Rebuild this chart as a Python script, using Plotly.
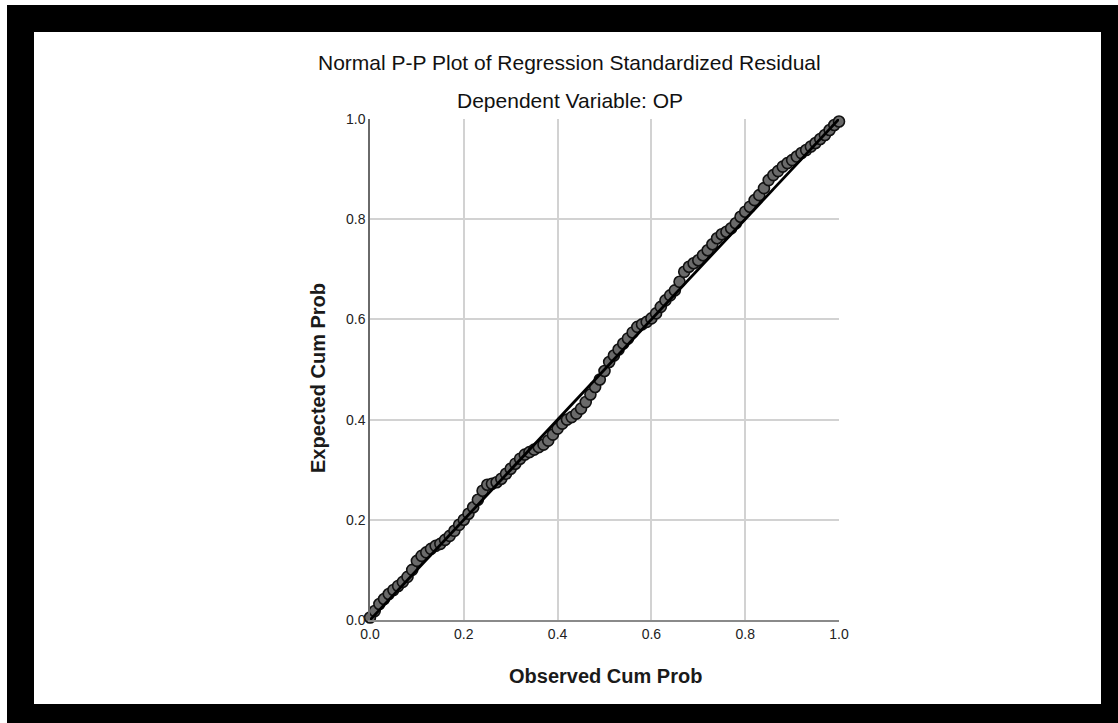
import plotly.graph_objects as go

# Observed cumulative probability (x) and expected cumulative probability (y)
observed_cum_prob = [
    0.00, 0.01, 0.02, 0.03, 0.04, 0.05, 0.06, 0.07, 0.08, 0.09,
    0.10, 0.11, 0.12, 0.13, 0.14, 0.15, 0.16, 0.17, 0.18, 0.19,
    0.20, 0.21, 0.22, 0.23, 0.24, 0.25, 0.26, 0.27, 0.28, 0.29,
    0.30, 0.31, 0.32, 0.33, 0.34, 0.35, 0.36, 0.37, 0.38, 0.39,
    0.40, 0.41, 0.42, 0.43, 0.44, 0.45, 0.46, 0.47, 0.48, 0.49,
    0.50, 0.51, 0.52, 0.53, 0.54, 0.55, 0.56, 0.57, 0.58, 0.59,
    0.60, 0.61, 0.62, 0.63, 0.64, 0.65, 0.66, 0.67, 0.68, 0.69,
    0.70, 0.71, 0.72, 0.73, 0.74, 0.75, 0.76, 0.77, 0.78, 0.79,
    0.80, 0.81, 0.82, 0.83, 0.84, 0.85, 0.86, 0.87, 0.88, 0.89,
    0.90, 0.91, 0.92, 0.93, 0.94, 0.95, 0.96, 0.97, 0.98, 0.99,
    1.00,
]
expected_cum_prob = [
    0.005, 0.018, 0.032, 0.042, 0.052, 0.060, 0.068, 0.076, 0.086, 0.100,
    0.118, 0.128, 0.135, 0.142, 0.148, 0.152, 0.160, 0.168, 0.178, 0.190,
    0.200, 0.212, 0.225, 0.240, 0.258, 0.270, 0.272, 0.275, 0.282, 0.292,
    0.302, 0.312, 0.322, 0.330, 0.335, 0.340, 0.345, 0.350, 0.358, 0.370,
    0.382, 0.392, 0.400, 0.405, 0.412, 0.422, 0.435, 0.450, 0.465, 0.480,
    0.497, 0.515, 0.528, 0.540, 0.552, 0.562, 0.574, 0.585, 0.590, 0.595,
    0.602, 0.612, 0.625, 0.638, 0.648, 0.658, 0.675, 0.695, 0.705, 0.712,
    0.718, 0.728, 0.738, 0.750, 0.762, 0.770, 0.775, 0.782, 0.792, 0.805,
    0.815, 0.825, 0.838, 0.848, 0.862, 0.878, 0.888, 0.896, 0.905, 0.912,
    0.918, 0.925, 0.932, 0.938, 0.945, 0.952, 0.960, 0.968, 0.978, 0.988,
    0.995,
]
ref_line_x = [0.0, 1.0]
ref_line_y = [0.0, 1.0]
tick_vals = [0.0, 0.2, 0.4, 0.6, 0.8, 1.0]
tick_text = ["0.0", "0.2", "0.4", "0.6", "0.8", "1.0"]

title_text = "Normal P-P Plot of Regression Standardized Residual"
subtitle_text = "Dependent Variable: OP"
x_title = "Observed Cum Prob"
y_title = "Expected Cum Prob"

FONT = "Liberation Sans, Arial, sans-serif"
W, H = 1118, 723
L, R, T, B = 370, 839, 119, 620  # plot area in pixels


def px(xp):
    return (xp - L) / (R - L)


def py(yp):
    return (B - yp) / (B - T)


fig = go.Figure()
fig.add_trace(go.Scatter(
    x=observed_cum_prob, y=expected_cum_prob, mode="markers",
    marker=dict(size=11, color="#6a6a6a", line=dict(color="#111111", width=1.6)),
    cliponaxis=False, hoverinfo="x+y", showlegend=False,
))
fig.add_trace(go.Scatter(
    x=ref_line_x, y=ref_line_y, mode="lines",
    line=dict(color="#000000", width=2.8),
    cliponaxis=False, hoverinfo="skip", showlegend=False,
))

# black frame around the white card
frame = [
    (7, 5, 1118, 32),
    (7, 704, 1118, 723),
    (7, 5, 34, 723),
    (1101, 5, 1118, 723),
]
shapes = []
for x0, y0, x1, y1 in frame:
    shapes.append(dict(type="rect", xref="paper", yref="paper",
                       x0=px(x0), x1=px(x1), y0=py(y1), y1=py(y0),
                       fillcolor="#000000", line=dict(width=0), layer="above"))

annotations = [
    dict(text=title_text, x=px(569), y=py(63), xref="paper", yref="paper",
         showarrow=False, xanchor="center", yanchor="middle",
         font=dict(family=FONT, size=21, color="#111111")),
    dict(text=subtitle_text, x=px(570), y=py(100), xref="paper", yref="paper",
         showarrow=False, xanchor="center", yanchor="middle",
         font=dict(family=FONT, size=21, color="#111111")),
    dict(text="<b>" + x_title + "</b>", x=px(605), y=py(676), xref="paper", yref="paper",
         showarrow=False, xanchor="center", yanchor="middle",
         font=dict(family=FONT, size=20, color="#1a1a1a")),
    dict(text="<b>" + y_title + "</b>", x=px(318), y=py(378), xref="paper", yref="paper",
         showarrow=False, xanchor="center", yanchor="middle", textangle=-90,
         font=dict(family=FONT, size=20, color="#1a1a1a")),
]

axis_common = dict(
    range=[0, 1], tickvals=tick_vals, ticktext=tick_text,
    showgrid=True, gridcolor="#d2d2d2", gridwidth=1.5,
    zeroline=False, ticks="", fixedrange=True,
    tickfont=dict(family=FONT, size=14, color="#222222"),
)

fig.update_layout(
    width=W, height=H,
    margin=dict(l=L, r=W - R, t=T, b=H - B, pad=0),
    paper_bgcolor="#ffffff", plot_bgcolor="#ffffff",
    xaxis=dict(**axis_common, showline=True, linecolor="#8a8a8a", linewidth=1.5),
    yaxis=dict(**axis_common, showline=True, linecolor="#6a6a6a", linewidth=1.5),
    shapes=shapes, annotations=annotations,
    showlegend=False,
)

fig.write_html(
    "out.html",
    config={"displayModeBar": False},
    post_script="document.body.style.margin='0';document.body.style.overflow='hidden';",
)
